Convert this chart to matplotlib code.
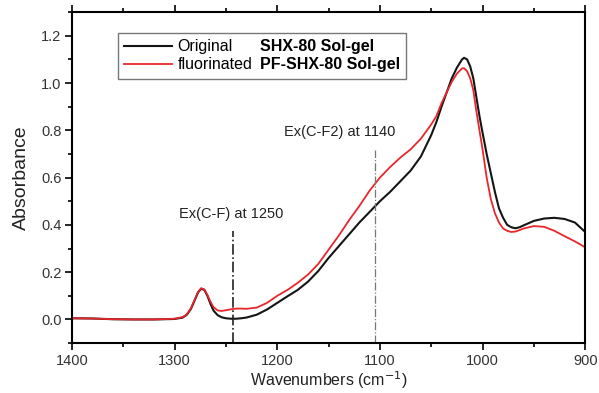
import matplotlib
matplotlib.use('Agg')
import matplotlib.pyplot as plt
from matplotlib.lines import Line2D
from matplotlib.ticker import MultipleLocator

plt.rcParams['font.family'] = ['Liberation Sans', 'DejaVu Sans']

# spectrum
wn = [1400, 1380, 1360, 1340, 1320, 1300, 1292, 1288, 1284, 1280, 1277, 1274, 1271, 1268,
      1265, 1262, 1258, 1254, 1250, 1245, 1240, 1235, 1230, 1220, 1210, 1200, 1190, 1180,
      1170, 1160, 1150, 1140, 1130, 1120, 1110, 1100, 1090, 1080, 1070, 1060, 1050, 1045,
      1040, 1035, 1030, 1025, 1020, 1018, 1015, 1012, 1009, 1006, 1003, 1000, 996, 992,
      988, 984, 980, 976, 972, 968, 964, 960, 950, 940, 930, 920, 910, 905, 900]

original = [0.005, 0.004, 0.001, 0.0, 0.0, 0.002, 0.008, 0.02, 0.045, 0.085, 0.115, 0.13, 0.125, 0.10,
            0.066, 0.037, 0.018, 0.009, 0.005, 0.003, 0.003, 0.005, 0.008, 0.02, 0.042, 0.07, 0.098, 0.125,
            0.16, 0.205, 0.26, 0.31, 0.36, 0.41, 0.455, 0.50, 0.54, 0.585, 0.63, 0.69, 0.78, 0.835,
            0.90, 0.96, 1.02, 1.065, 1.10, 1.107, 1.10, 1.07, 1.02, 0.94, 0.86, 0.79, 0.70, 0.62,
            0.54, 0.47, 0.43, 0.40, 0.39, 0.386, 0.39, 0.398, 0.417, 0.427, 0.43, 0.425, 0.41, 0.39, 0.37]

fluorinated = [0.005, 0.004, 0.001, 0.0, 0.0, 0.003, 0.01, 0.022, 0.048, 0.088, 0.117, 0.132, 0.127, 0.104,
               0.075, 0.052, 0.038, 0.036, 0.039, 0.043, 0.046, 0.046, 0.045, 0.05, 0.07, 0.10, 0.125, 0.155,
               0.19, 0.235, 0.295, 0.355, 0.42, 0.48, 0.545, 0.60, 0.645, 0.685, 0.72, 0.765, 0.825, 0.86,
               0.915, 0.96, 1.005, 1.04, 1.062, 1.063, 1.05, 1.02, 0.97, 0.88, 0.80, 0.72, 0.60, 0.51,
               0.45, 0.41, 0.385, 0.375, 0.37, 0.372, 0.378, 0.385, 0.395, 0.392, 0.375, 0.352, 0.33, 0.318, 0.305]

# marker lines for the C-F bands
mark_wn = [1243, 1105]
mark_top = [0.375, 0.715]
mark_text = ['Ex(C-F) at 1250', 'Ex(C-F2) at 1140']
text_wn = [1245, 1139]
text_y = [0.448, 0.792]

fig = plt.figure(figsize=(5.99, 3.93), dpi=100)
ax = fig.add_axes([0.120, 0.127, 0.857, 0.842])

l1, = ax.plot(wn, original, color='#151515', lw=1.5)
l2, = ax.plot(wn, fluorinated, color='#e8262b', lw=1.3)

ax.vlines(mark_wn[0], -0.1, mark_top[0], colors='#222222', linestyles='-.', lw=1.2)
ax.vlines(mark_wn[1], -0.1, mark_top[1], colors='#777777', linestyles='-.', lw=0.9)
for t, x, y in zip(mark_text, text_wn, text_y):
    ax.text(x, y, t, ha='center', va='center', fontsize=10.5, color='#222222')

ax.set_xlim(1400, 900)
ax.set_ylim(-0.1, 1.3)
ax.xaxis.set_major_locator(MultipleLocator(100))
ax.xaxis.set_minor_locator(MultipleLocator(50))
ax.yaxis.set_major_locator(MultipleLocator(0.2))
ax.yaxis.set_minor_locator(MultipleLocator(0.1))
ax.yaxis.set_major_formatter(matplotlib.ticker.FormatStrFormatter('%.1f'))
ax.tick_params(which='both', direction='out', top=True, right=False, labelsize=10.5,
               labelcolor='#333333', width=1.2, pad=2.5)
ax.tick_params(which='major', length=5)
ax.tick_params(which='minor', length=3)
for s in ax.spines.values():
    s.set_linewidth(1.5)

ax.set_xlabel('Wavenumbers (cm$^{-1}$)', fontsize=11.5, color='#222222', labelpad=1)
ax.set_ylabel('Absorbance', fontsize=14, color='#222222', labelpad=8)

blank = Line2D([], [], color='none')
leg = ax.legend([l1, l2, blank, blank],
                ['Original', 'fluorinated', 'SHX-80 Sol-gel', 'PF-SHX-80 Sol-gel'],
                ncol=2, loc='upper left', bbox_to_anchor=(0.074, 0.962),
                fontsize=11.5, handlelength=3.0, handletextpad=0.35, columnspacing=-2.9,
                labelspacing=0.2, borderpad=0.4, fancybox=False, framealpha=1,
                edgecolor='#777777')
for t in leg.get_texts()[2:]:
    t.set_fontweight('bold')
leg.get_frame().set_linewidth(1.0)

fig.savefig('out.png', dpi=100)
